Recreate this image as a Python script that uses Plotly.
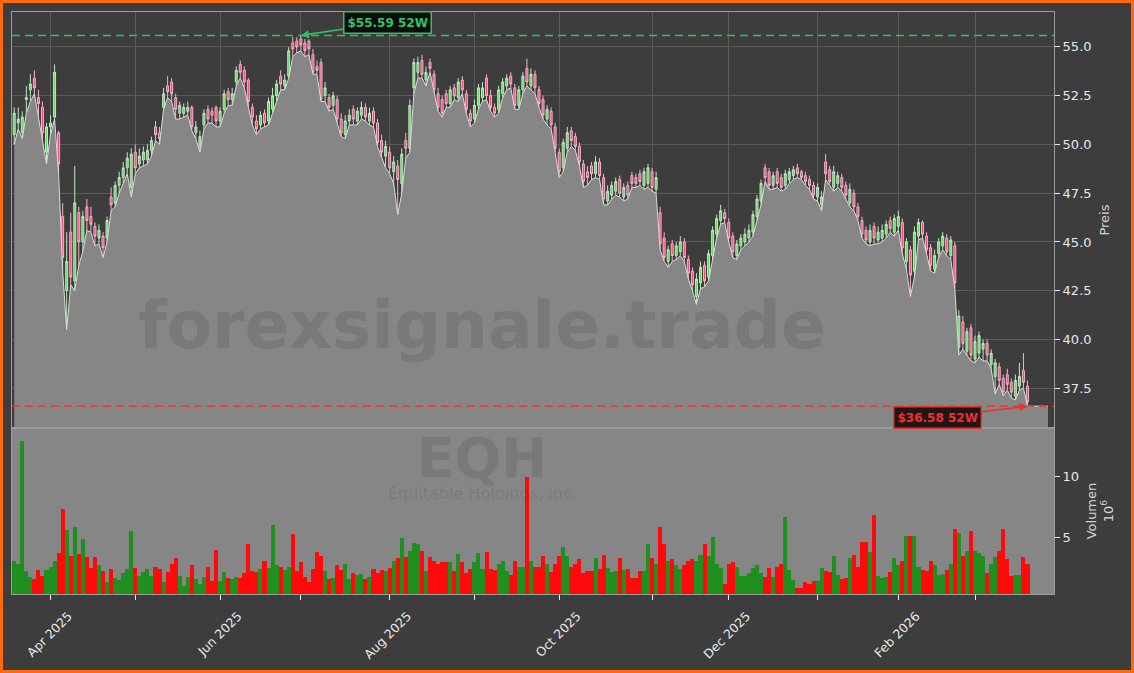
import pandas as pd
import plotly.graph_objects as go

# ---------------- data ----------------
TICKER = "EQH"
COMPANY = "Equitable Holdings, Inc."
WATERMARK = "forexsignale.trade"
START_DATE = "2025-03-19"
END_DATE = "2026-03-19"
HOLIDAYS = ["2025-04-18", "2025-05-26", "2025-06-19", "2025-07-04", "2025-09-01",
            "2025-11-27", "2025-12-25", "2026-01-01", "2026-01-19", "2026-02-16"]

OPEN = [
    50.5, 51.1, 50.6, 52.3, 52.8, 53.4, 52.4, 51.9, 49.6, 50.9,
    51.4, 50.6, 46.3, 42.5, 45.5, 43.0, 46.5, 45.0, 46.8, 46.3,
    45.8, 45.2, 45.3, 45.2, 47.3, 47.0, 47.9, 48.3, 48.8, 47.8,
    49.6, 49.0, 49.2, 49.2, 49.7, 50.9, 50.6, 51.9, 53.0, 53.2,
    52.4, 51.6, 51.6, 51.7, 51.9, 50.6, 49.9, 51.0, 51.8, 51.7,
    51.9, 51.2, 51.8, 52.7, 52.3, 53.2, 54.1, 53.8, 53.3, 51.9,
    51.2, 51.0, 51.6, 51.2, 51.8, 52.5, 53.5, 53.0, 53.5, 55.2,
    55.3, 55.4, 55.2, 55.3, 54.6, 54.0, 54.2, 52.5, 52.4, 52.0,
    52.3, 51.3, 50.5, 51.2, 51.8, 51.2, 51.5, 51.9, 51.2, 51.7,
    51.1, 50.2, 49.4, 49.6, 48.6, 48.9, 48.0, 50.2, 49.8, 52.9,
    53.7, 54.3, 53.3, 54.2, 53.6, 52.6, 52.3, 52.6, 52.1, 52.9,
    52.4, 53.3, 52.6, 51.6, 51.3, 52.0, 52.4, 53.4, 52.5, 51.9,
    51.8, 52.6, 53.0, 53.5, 52.9, 52.0, 52.8, 53.9, 53.0, 53.6,
    52.8, 52.3, 51.3, 51.7, 50.9, 49.6, 48.8, 49.8, 50.7, 50.4,
    49.9, 49.0, 48.6, 48.9, 48.5, 49.1, 48.3, 47.1, 47.4, 47.6,
    48.2, 47.3, 47.9, 48.4, 48.3, 48.5, 47.9, 48.0, 48.6, 47.7,
    46.5, 45.2, 44.0, 44.9, 44.3, 44.5, 45.0, 44.1, 43.5, 42.2,
    42.9, 43.8, 43.2, 44.3, 45.4, 46.1, 46.5, 46.0, 45.3, 44.3,
    44.8, 45.0, 45.2, 45.5, 46.3, 47.1, 48.8, 48.6, 47.9, 48.6,
    48.3, 47.9, 48.2, 48.4, 48.8, 48.6, 48.4, 48.2, 47.9, 47.3,
    46.9, 49.1, 48.7, 47.8, 48.0, 48.3, 47.9, 47.0, 47.5, 46.8,
    46.1, 45.6, 45.0, 45.8, 45.1, 45.2, 45.4, 46.1, 45.5, 45.8,
    46.0, 44.0, 44.6, 43.5, 45.3, 46.0, 45.3, 44.7, 43.6, 44.4,
    44.8, 45.2, 44.3, 44.8, 39.6, 40.9, 39.4, 40.6, 39.0, 39.3,
    39.5, 39.8, 38.7, 38.1, 38.6, 38.0, 38.2, 37.8, 37.1, 37.6,
    38.4, 37.6]

HIGH = [
    51.9, 51.9, 51.7, 53.0, 53.6, 53.8, 52.8, 52.2, 51.1, 51.5,
    54.1, 50.7, 47.0, 45.5, 46.5, 48.9, 46.8, 46.6, 47.2, 46.8,
    46.0, 45.9, 45.5, 46.3, 47.8, 48.1, 48.6, 49.1, 49.6, 49.8,
    50.0, 49.8, 49.9, 50.0, 50.4, 51.2, 50.9, 52.9, 53.5, 53.4,
    52.6, 52.2, 52.1, 52.2, 52.0, 51.2, 50.7, 51.8, 52.0, 51.9,
    52.0, 51.9, 52.8, 52.9, 52.9, 54.0, 54.3, 54.0, 53.4, 52.1,
    51.5, 51.7, 51.8, 52.4, 52.9, 53.3, 53.8, 53.6, 55.0, 55.5,
    55.5, 55.59, 55.4, 55.4, 54.9, 54.3, 54.4, 53.2, 52.6, 52.7,
    52.5, 51.6, 51.5, 51.8, 52.0, 51.9, 52.2, 52.1, 51.9, 51.9,
    51.3, 50.5, 50.2, 49.9, 49.4, 49.2, 49.8, 50.6, 52.3, 54.4,
    54.5, 54.6, 54.0, 54.4, 53.8, 52.9, 52.5, 52.8, 53.0, 53.1,
    53.4, 53.5, 52.8, 51.8, 52.3, 53.1, 53.2, 53.6, 52.8, 52.1,
    53.0, 53.4, 53.6, 53.7, 53.1, 53.0, 53.7, 54.4, 53.9, 53.8,
    53.0, 52.5, 52.0, 51.9, 51.1, 49.8, 50.3, 50.9, 50.9, 50.6,
    50.1, 49.2, 48.9, 49.1, 49.4, 49.3, 48.5, 47.9, 48.1, 48.3,
    48.4, 48.0, 48.1, 48.6, 48.5, 48.7, 48.8, 49.0, 48.8, 48.6,
    46.8, 45.5, 44.8, 45.1, 45.0, 45.3, 45.2, 44.3, 43.7, 43.4,
    44.0, 44.0, 44.6, 45.8, 46.4, 46.9, 46.7, 46.2, 45.5, 45.1,
    45.4, 45.7, 45.9, 46.6, 47.4, 48.2, 49.0, 48.8, 48.6, 48.8,
    48.5, 48.7, 48.8, 48.9, 49.0, 48.7, 48.6, 48.4, 48.1, 48.0,
    47.6, 49.5, 48.9, 48.9, 48.6, 48.5, 48.1, 48.0, 47.7, 47.0,
    46.3, 45.8, 45.9, 46.0, 45.8, 45.9, 46.1, 46.3, 46.4, 46.6,
    46.2, 45.2, 44.8, 45.8, 46.2, 46.1, 45.5, 44.9, 44.6, 45.2,
    45.5, 45.4, 45.3, 45.0, 41.5, 41.2, 40.6, 40.8, 40.2, 40.4,
    40.0, 40.0, 39.5, 39.0, 38.8, 38.2, 38.5, 38.0, 38.2, 38.8,
    39.3, 37.9]

LOW = [
    50.0, 50.8, 50.3, 51.6, 52.2, 52.6, 51.4, 50.2, 49.0, 50.5,
    51.3, 48.5, 43.5, 40.5, 42.8, 42.5, 43.8, 44.5, 45.6, 45.5,
    44.8, 44.9, 44.2, 45.0, 46.6, 46.8, 47.5, 48.0, 48.5, 47.3,
    48.5, 48.8, 48.9, 49.0, 49.4, 50.2, 50.0, 51.8, 52.4, 52.2,
    51.3, 51.3, 51.4, 51.5, 50.7, 50.3, 49.6, 50.8, 51.1, 51.1,
    50.9, 50.9, 51.6, 52.0, 52.0, 53.0, 53.4, 52.9, 51.9, 51.0,
    50.5, 50.8, 50.9, 51.0, 51.6, 52.2, 52.8, 52.8, 53.4, 54.5,
    54.7, 54.8, 54.5, 54.6, 53.6, 53.6, 52.2, 52.2, 51.7, 51.8,
    51.1, 50.4, 50.3, 51.0, 51.0, 51.0, 51.3, 51.2, 51.0, 50.9,
    49.9, 49.3, 48.8, 48.5, 48.0, 46.4, 47.5, 49.3, 49.6, 52.6,
    53.4, 53.4, 53.0, 53.7, 52.6, 51.7, 51.4, 51.9, 51.9, 52.3,
    52.2, 52.6, 51.6, 50.9, 51.1, 51.8, 52.2, 52.3, 51.7, 51.4,
    51.6, 52.4, 52.8, 52.9, 51.8, 51.8, 52.6, 53.0, 52.8, 52.6,
    51.9, 51.3, 51.0, 50.8, 49.6, 48.3, 48.6, 49.6, 49.9, 49.7,
    48.9, 47.8, 47.9, 48.2, 48.3, 48.2, 46.9, 46.9, 47.2, 47.4,
    47.3, 47.1, 47.2, 47.8, 47.8, 47.9, 47.7, 47.8, 47.6, 47.5,
    44.6, 44.0, 43.7, 44.0, 44.1, 44.3, 44.0, 43.1, 42.5, 41.8,
    42.6, 42.7, 43.0, 44.1, 45.2, 45.9, 46.0, 45.0, 44.2, 44.1,
    44.6, 44.8, 45.0, 45.3, 46.1, 46.9, 48.1, 47.7, 47.7, 47.8,
    47.6, 47.7, 48.0, 48.2, 48.3, 48.2, 47.9, 47.7, 47.2, 47.1,
    46.6, 48.2, 47.9, 47.6, 47.8, 47.6, 47.2, 46.8, 46.6, 46.1,
    45.2, 44.9, 44.8, 44.9, 44.9, 45.0, 45.2, 45.5, 45.3, 45.6,
    44.4, 43.6, 42.2, 43.2, 45.1, 45.2, 44.4, 43.5, 43.4, 44.2,
    44.6, 44.3, 44.1, 42.6, 39.2, 39.5, 39.2, 38.9, 38.8, 39.1,
    38.9, 38.9, 38.5, 37.2, 37.7, 37.1, 37.4, 37.0, 36.9, 37.4,
    37.5, 36.58]

CLOSE = [
    51.6, 51.3, 51.4, 52.4, 53.1, 52.9, 52.1, 50.6, 50.9, 51.1,
    53.7, 49.0, 44.2, 44.0, 43.2, 47.0, 45.0, 46.3, 46.1, 45.9,
    45.3, 45.6, 44.7, 46.1, 46.9, 47.9, 48.3, 48.8, 49.3, 49.5,
    48.8, 49.4, 49.6, 49.7, 50.2, 50.5, 50.3, 52.6, 52.7, 52.6,
    51.8, 52.0, 51.9, 51.9, 50.9, 50.9, 50.4, 51.6, 51.3, 51.5,
    51.2, 51.7, 52.6, 52.3, 52.6, 53.8, 53.7, 53.2, 52.2, 51.4,
    50.8, 51.5, 51.1, 52.2, 52.5, 53.1, 53.1, 53.3, 54.8, 54.9,
    55.0, 55.1, 54.8, 54.9, 53.7, 53.8, 52.3, 52.9, 51.9, 52.5,
    51.3, 50.6, 51.2, 51.5, 51.3, 51.7, 51.9, 51.4, 51.6, 51.1,
    50.1, 49.6, 49.9, 48.8, 49.1, 48.2, 49.5, 49.8, 52.0, 54.2,
    54.2, 53.6, 53.7, 53.9, 52.8, 51.9, 51.6, 52.1, 52.8, 52.5,
    53.2, 52.8, 51.8, 51.2, 52.0, 52.9, 52.9, 52.5, 51.9, 51.6,
    52.8, 53.2, 53.4, 53.1, 52.0, 52.8, 53.5, 53.2, 53.6, 52.9,
    52.1, 51.5, 51.8, 51.0, 49.8, 48.6, 50.1, 50.6, 50.2, 49.9,
    49.1, 48.1, 48.3, 48.5, 49.1, 48.4, 47.2, 47.6, 47.9, 48.1,
    47.5, 47.8, 47.4, 48.0, 48.0, 48.1, 48.6, 48.8, 47.8, 48.3,
    44.9, 44.2, 44.6, 44.3, 44.8, 45.0, 44.2, 43.4, 42.8, 43.1,
    43.7, 43.0, 44.4, 45.6, 46.2, 46.6, 46.2, 45.2, 44.5, 44.9,
    45.2, 45.4, 45.6, 46.4, 47.2, 48.0, 48.3, 47.9, 48.4, 48.0,
    47.8, 48.5, 48.6, 48.7, 48.5, 48.3, 48.1, 47.9, 47.4, 47.8,
    47.3, 48.5, 48.1, 48.6, 48.4, 47.8, 47.4, 47.7, 46.8, 46.3,
    45.4, 45.1, 45.6, 45.2, 45.5, 45.6, 45.9, 45.7, 46.2, 46.3,
    44.7, 45.0, 43.3, 45.5, 46.0, 45.4, 44.6, 43.8, 44.3, 45.0,
    45.3, 44.5, 45.1, 42.9, 41.2, 39.8, 40.4, 39.2, 39.9, 40.2,
    39.8, 39.2, 39.3, 38.8, 37.9, 37.3, 37.7, 37.3, 37.9, 38.1,
    37.8, 36.8]

# volume in millions of shares
VOLUME = [
    3.0, 2.8, 12.9, 2.25, 1.75, 1.55, 2.33, 1.83, 2.33, 2.58,
    3.08, 3.67, 7.33, 5.58, 3.42, 5.83, 3.58, 4.83, 3.33, 2.5,
    3.33, 2.75, 2.25, 1.33, 2.42, 1.67, 1.5, 2.08, 2.42, 5.5,
    2.5, 1.83, 2.17, 2.42, 1.83, 2.58, 2.42, 1.33, 2.17, 2.83,
    3.25, 1.83, 1.0, 1.75, 2.75, 1.58, 1.17, 1.75, 2.58, 1.42,
    3.92, 1.42, 2.17, 1.67, 1.58, 1.75, 1.67, 2.08, 4.42, 2.25,
    2.17, 2.42, 3.08, 2.5, 6.0, 2.75, 2.58, 2.33, 2.58, 5.25,
    2.25, 2.92, 1.75, 1.33, 2.42, 3.75, 3.42, 2.25, 1.58, 1.67,
    2.75, 2.33, 2.83, 1.58, 2.08, 1.92, 2.0, 1.58, 1.75, 2.42,
    2.08, 2.33, 2.25, 2.5, 3.0, 3.25, 4.92, 3.33, 3.83, 4.5,
    4.42, 3.83, 2.25, 3.33, 3.0, 2.83, 2.92, 2.92, 2.92, 2.25,
    3.58, 2.92, 2.08, 2.42, 2.92, 3.67, 2.42, 3.75, 2.42, 2.33,
    2.83, 3.0, 2.25, 1.92, 3.0, 2.58, 2.58, 10.0, 3.08, 2.58,
    2.58, 3.42, 2.83, 2.17, 2.83, 3.42, 4.17, 3.42, 2.58, 2.83,
    3.17, 2.08, 2.25, 2.25, 3.25, 2.42, 3.5, 2.5, 2.17, 2.25,
    3.25, 2.33, 2.42, 1.67, 1.67, 2.25, 2.25, 4.42, 3.25, 2.83,
    5.83, 4.42, 3.0, 3.17, 2.67, 2.42, 2.75, 3.0, 3.17, 3.08,
    3.5, 4.42, 3.42, 5.0, 2.83, 2.5, 1.17, 2.83, 2.92, 2.58,
    1.83, 1.83, 2.08, 2.5, 2.67, 2.08, 1.75, 2.5, 1.75, 2.58,
    2.83, 6.67, 2.33, 1.5, 0.83, 0.83, 1.33, 1.17, 1.42, 1.42,
    2.5, 2.25, 2.17, 3.42, 1.92, 1.58, 1.67, 3.25, 3.5, 2.58,
    4.58, 4.58, 3.75, 6.83, 1.83, 1.67, 1.75, 2.17, 3.25, 2.67,
    3.08, 5.08, 5.08, 5.08, 2.58, 2.33, 2.25, 3.08, 2.75, 1.92,
    2.0, 2.33, 2.83, 5.67, 5.33, 3.42, 3.83, 5.5, 3.83, 3.67,
    3.42, 2.08, 2.83, 3.33, 3.83, 5.67, 3.17, 1.83, 1.92, 1.92,
    3.33, 2.83]

PRICE_TICKS = [37.5, 40.0, 42.5, 45.0, 47.5, 50.0, 52.5, 55.0]
VOLUME_TICKS = [5, 10]

# ---------------- styling ----------------
BG = "#3d3d3d"
FILL_GRAY = "#868686"
GRID = "#5b5b5b"
SPINE = "#9c9c9c"
TXT = "#e8e8e8"
UP_FILL, UP_LINE = "#62d662", "#bfe8bf"
DN_FILL, DN_LINE = "#f2467a", "#f3b4c6"
VOL_UP, VOL_DN = "#1f8f1f", "#ff0a0a"
HI_COL = "#2fc266"
LO_COL = "#e8342f"
ORANGE = "#ff6a0d"
FONT = "DejaVu Sans"

X_START = "2025-03-18 22:54"
X_END = "2026-03-30 01:40"
FILL_END = "2026-03-26 14:00"

# ---------------- build ----------------
dates = [d + pd.Timedelta(hours=12) for d in pd.bdate_range(START_DATE, END_DATE)
         if d.strftime("%Y-%m-%d") not in HOLIDAYS]
n = min(len(dates), len(OPEN), len(HIGH), len(LOW), len(CLOSE), len(VOLUME))
dates = dates[:n]

hi52 = max(HIGH[:n])
lo52 = min(LOW[:n])
i_hi = HIGH.index(hi52)
i_lo = LOW.index(lo52)

vol_colors = [VOL_UP if c >= o else VOL_DN for o, c in zip(OPEN[:n], CLOSE[:n])]

# monthly ticks at the first trading day of each month (skip partial first month)
major_vals, major_text, minor_vals = [], [], []
seen = set()
for k, d in enumerate(dates):
    key = (d.year, d.month)
    if key in seen:
        continue
    seen.add(key)
    if k == 0:
        continue
    if d.month % 2 == 0:
        major_vals.append(d)
        major_text.append(d.strftime("%b %Y"))
    else:
        minor_vals.append(d)

rb = [dict(bounds=["sat", "mon"]), dict(values=HOLIDAYS)]

fig = go.Figure()

fig.add_trace(go.Scatter(
    x=dates + [pd.Timestamp(FILL_END)], y=LOW[:n] + [LOW[n - 1]],
    mode="lines", line=dict(color="#dcdcdc", width=1),
    fill="tozeroy", fillcolor=FILL_GRAY, hoverinfo="skip",
    xaxis="x", yaxis="y", showlegend=False))

fig.add_trace(go.Candlestick(
    x=dates, open=OPEN[:n], high=HIGH[:n], low=LOW[:n], close=CLOSE[:n],
    increasing=dict(line=dict(color=UP_LINE, width=1), fillcolor=UP_FILL),
    decreasing=dict(line=dict(color=DN_LINE, width=1), fillcolor=DN_FILL),
    whiskerwidth=0, xaxis="x", yaxis="y", showlegend=False))

fig.add_trace(go.Bar(
    x=dates, y=VOLUME[:n], marker=dict(color=vol_colors, line=dict(width=0)),
    xaxis="x2", yaxis="y2", showlegend=False))

VOL_TOP = 0.2852

common_x = dict(range=[X_START, X_END], rangebreaks=rb, automargin=False,
                showline=True, mirror=True, linecolor=SPINE, linewidth=1,
                zeroline=False)

fig.update_layout(
    width=1134, height=673,
    margin=dict(l=12, r=80, t=12, b=79, autoexpand=False),
    paper_bgcolor=BG, plot_bgcolor=BG,
    showlegend=False, bargap=0,
    font=dict(family=FONT, color=TXT, size=13),
    xaxis=dict(domain=[0, 1], anchor="y", showticklabels=False, ticks="",
               tickvals=major_vals,
               showgrid=True, gridcolor=GRID, gridwidth=1,
               minor=dict(tickvals=minor_vals, showgrid=True, gridcolor=GRID,
                          gridwidth=1, ticks=""),
               rangeslider=dict(visible=False), **common_x),
    yaxis=dict(domain=[VOL_TOP, 1], anchor="x", range=[35.46, 56.79], side="right",
               automargin=False,
               tickvals=PRICE_TICKS, tickformat=".1f", ticks="outside", ticklen=5,
               tickcolor=TXT, showgrid=True, gridcolor=GRID, gridwidth=1,
               showline=True, mirror=True, linecolor=SPINE, zeroline=False,
               tickfont=dict(size=13, color=TXT),
               title=dict(text="Preis", standoff=9, font=dict(size=13, color="#d4d4d4"))),
    xaxis2=dict(domain=[0, 1], anchor="y2", tickvals=major_vals, ticktext=major_text,
                tickangle=-45, ticks="outside", ticklen=5, tickcolor=TXT, showgrid=False,
                ticklabelshift=18, ticklabelstandoff=4,
                minor=dict(tickvals=minor_vals, ticks="outside", ticklen=5,
                           tickcolor=TXT, showgrid=False),
                tickfont=dict(size=12.5, color=TXT), **common_x),
    yaxis2=dict(domain=[0, VOL_TOP], anchor="x2", range=[0.32, 14.01], side="right",
                automargin=False,
                tickvals=VOLUME_TICKS, ticks="outside", ticklen=5, tickcolor=TXT,
                showgrid=False, showline=True, mirror=True, linecolor=SPINE,
                zeroline=False, tickfont=dict(size=13, color=TXT),
                title=dict(text="Volumen<br>10<sup>6</sup>", standoff=8,
                           font=dict(size=13, color="#d4d4d4"))),
)

# shapes: volume panel background, 52W lines, orange frame
W_PLOT, H_PLOT, ML, MB, MT = 1134 - 12 - 80, 673 - 12 - 79, 12, 79, 12
fig.add_shape(type="rect", xref="x2 domain", yref="y2 domain", x0=0, x1=1, y0=0, y1=1,
              fillcolor=FILL_GRAY, line=dict(width=0), layer="below")
fig.add_shape(type="line", xref="x domain", yref="y", x0=0, x1=1, y0=hi52, y1=hi52,
              line=dict(color=HI_COL, width=1.5, dash="8px,5px"))
fig.add_shape(type="line", xref="x domain", yref="y", x0=0, x1=1, y0=lo52, y1=lo52,
              line=dict(color=LO_COL, width=1.5, dash="8px,5px"), opacity=0.9)
fig.add_shape(type="rect", xref="paper", yref="paper",
              x0=(1.5 - ML) / W_PLOT, x1=(1134 - 1.5 - ML) / W_PLOT,
              y0=-(MB - 1.5) / H_PLOT, y1=(H_PLOT + MT - 1.5) / H_PLOT,
              line=dict(color=ORANGE, width=3), fillcolor="rgba(0,0,0,0)", layer="above")

# watermarks
WM = dict(xref="paper", yref="paper", showarrow=False, xanchor="center", yanchor="middle")
fig.add_annotation(text=f"<b>{WATERMARK}</b>", x=(482 - ML) / W_PLOT, y=(594 - 325) / H_PLOT,
                   font=dict(family=FONT, size=66, color="rgba(40,40,40,0.13)"), **WM)
fig.add_annotation(text=f"<b>{TICKER}</b>", x=(482 - ML) / W_PLOT, y=(594 - 458) / H_PLOT,
                   font=dict(family=FONT, size=55, color="rgba(40,40,40,0.13)"), **WM)
fig.add_annotation(text=COMPANY, x=(482 - ML) / W_PLOT, y=(594 - 494) / H_PLOT,
                   font=dict(family=FONT, size=16, color="rgba(40,40,40,0.13)"), **WM)

# 52-week labels
fig.add_annotation(x=dates[i_hi], y=hi52, xref="x", yref="y",
                   text=f"<b>${hi52:.2f} 52W</b>", showarrow=True,
                   arrowhead=2, arrowsize=1, arrowwidth=1.6, arrowcolor=HI_COL,
                   ax=87, ay=-13, font=dict(family=FONT, size=12, color=HI_COL),
                   bgcolor="rgba(8,8,8,0.9)", bordercolor=HI_COL, borderwidth=1.5, borderpad=3)
fig.add_annotation(x=dates[i_lo], y=lo52, xref="x", yref="y",
                   text=f"<b>${lo52:.2f} 52W</b>", showarrow=True,
                   arrowhead=2, arrowsize=1, arrowwidth=1.6, arrowcolor=LO_COL,
                   ax=-90, ay=11, font=dict(family=FONT, size=12, color=LO_COL),
                   bgcolor="rgba(25,8,8,0.9)", bordercolor=LO_COL, borderwidth=1.5, borderpad=3)

fig.write_html(
    "out.html",
    config={"displayModeBar": False},
    post_script="document.body.style.margin='0';document.body.style.overflow='hidden';",
)
